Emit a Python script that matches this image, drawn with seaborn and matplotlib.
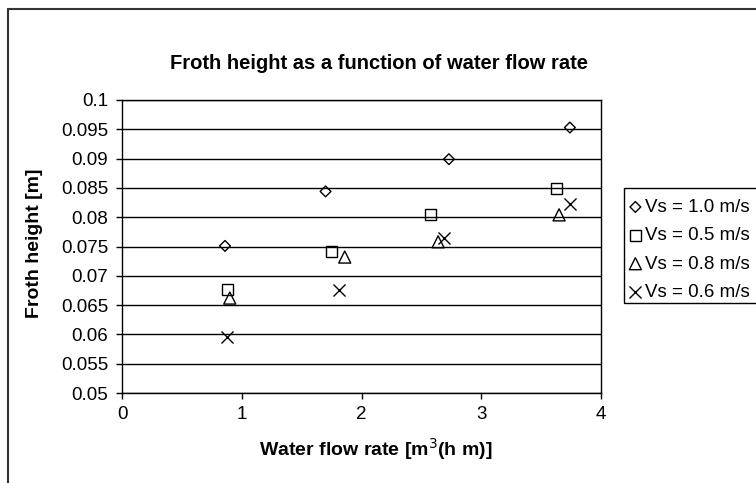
import matplotlib
matplotlib.use("Agg")
import matplotlib.pyplot as plt
import seaborn as sns
import pandas as pd
from matplotlib.lines import Line2D
from matplotlib.patches import Rectangle

# Data
labels = ['Vs = 1.0 m/s', 'Vs = 0.5 m/s', 'Vs = 0.8 m/s', 'Vs = 0.6 m/s']
flow_10 = [0.86, 1.70, 2.73, 3.74]
height_10 = [0.0751, 0.0844, 0.0899, 0.0953]
flow_05 = [0.88, 1.75, 2.58, 3.63]
height_05 = [0.0676, 0.0742, 0.0805, 0.0849]
flow_08 = [0.90, 1.86, 2.64, 3.65]
height_08 = [0.0662, 0.0732, 0.0758, 0.0804]
flow_06 = [0.88, 1.81, 2.69, 3.74]
height_06 = [0.0595, 0.0676, 0.0764, 0.0823]

series = [
    (labels[0], flow_10, height_10, 'D', 30),
    (labels[1], flow_05, height_05, 's', 62),
    (labels[2], flow_08, height_08, '^', 75),
    (labels[3], flow_06, height_06, 'x', 75),
]

sns.set_style('white')
plt.rcParams['font.family'] = ['Liberation Sans', 'DejaVu Sans']
plt.rcParams['text.color'] = 'black'
plt.rcParams['axes.labelcolor'] = 'black'
plt.rcParams['xtick.color'] = 'black'
plt.rcParams['ytick.color'] = 'black'

fig = plt.figure(figsize=(7.56, 4.83), dpi=100)
ax = fig.add_axes([122 / 756, 1 - 393 / 483, 479 / 756, 293 / 483])

for name, xs, ys, mk, size in series:
    df = pd.DataFrame({'flow': xs, 'height': ys})
    if mk == 'x':
        sns.scatterplot(data=df, x='flow', y='height', marker=mk, s=size,
                        color='black', linewidth=1.0, label=name, ax=ax, zorder=3)
    else:
        sns.scatterplot(data=df, x='flow', y='height', marker=mk, s=size,
                        facecolor='none', edgecolor='black', color='black',
                        linewidth=1.0, label=name, ax=ax, zorder=3)

ax.set_xlim(0, 4)
ax.set_ylim(0.05, 0.1)
ax.set_xticks([0, 1, 2, 3, 4])
ax.set_yticks([0.05, 0.055, 0.06, 0.065, 0.07, 0.075, 0.08, 0.085, 0.09, 0.095, 0.1])
ax.set_yticklabels(['0.05', '0.055', '0.06', '0.065', '0.07', '0.075', '0.08',
                    '0.085', '0.09', '0.095', '0.1'])
ax.tick_params(axis='both', direction='out', length=4.5, width=1, color='black',
               labelsize=13.5, left=True, bottom=True)
ax.tick_params(axis='x', pad=5)
ax.tick_params(axis='y', pad=5.5)
ax.yaxis.grid(True, color='black', linewidth=1)
ax.set_axisbelow(True)
for sp in ax.spines.values():
    sp.set_color('black')
    sp.set_linewidth(1)
    sp.set_visible(True)

ax.set_xlabel('Water flow rate [m$^3$(h m)]', fontsize=14, fontweight='bold')
ax.set_ylabel('Froth height [m]', fontsize=14, fontweight='bold')
ax.xaxis.set_label_coords((376 - 122) / 479, -(436 - 393) / 293)
ax.yaxis.set_label_coords(-(122 - 43) / 479, (393 - 243) / 293)
fig.text(379 / 756, 1 - 63.5 / 483, 'Froth height as a function of water flow rate',
         ha='center', va='center', fontsize=14.5, fontweight='bold')

leg = ax.legend(loc='upper left', bbox_to_anchor=(623 / 756, 1 - 192 / 483),
                bbox_transform=fig.transFigure, borderaxespad=0, frameon=False,
                fontsize=13.5, handlelength=0.6, handletextpad=0.2,
                borderpad=0.36, labelspacing=0.6, markerscale=1)

# legend border (runs off the right edge like the original)
fig.add_artist(Rectangle((624 / 756, 1 - 303 / 483), 140 / 756, 115 / 483,
                         transform=fig.transFigure, fill=False,
                         edgecolor='black', linewidth=1))

# outer chart frame (clipped at right and bottom)
fx = 8 / 756
fy = 1 - 9 / 483
fig.add_artist(Line2D([fx, fx], [0, fy], transform=fig.transFigure, color='#333333', lw=1.5))
fig.add_artist(Line2D([fx, 1], [fy, fy], transform=fig.transFigure, color='#333333', lw=1.5))

fig.savefig('out.png', dpi=100)
